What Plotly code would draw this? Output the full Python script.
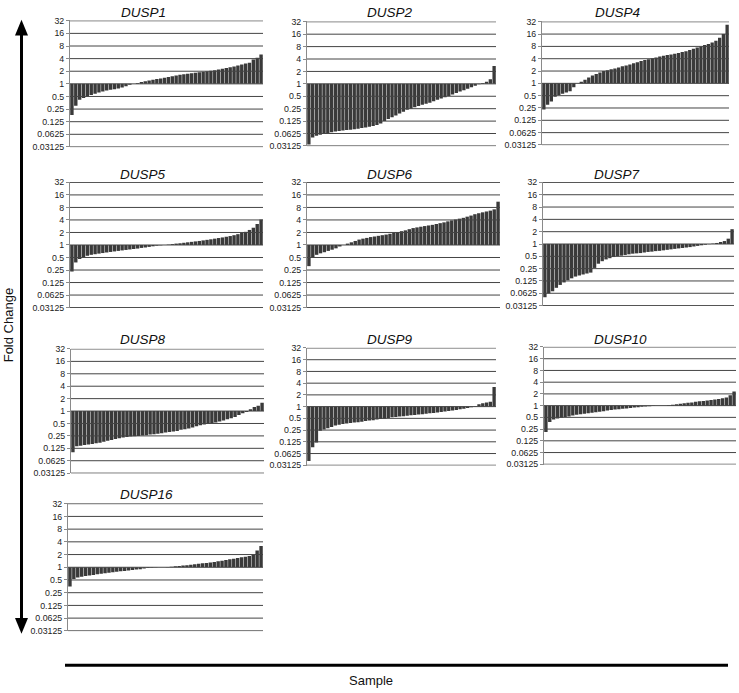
import math
import plotly.graph_objects as go

# ---------------- data (fold change per sample, sorted) ----------------
genes = ["DUSP1", "DUSP2", "DUSP4", "DUSP5", "DUSP6",
         "DUSP7", "DUSP8", "DUSP9", "DUSP10", "DUSP16"]

dusp1 = [0.18, 0.30, 0.42, 0.46, 0.50, 0.54, 0.58, 0.62, 0.66, 0.69,
         0.72, 0.74, 0.77, 0.82, 0.88, 0.95, 1.00, 1.05, 1.10, 1.15,
         1.20, 1.25, 1.30, 1.35, 1.40, 1.45, 1.52, 1.58, 1.65, 1.70,
         1.75, 1.80, 1.85, 1.90, 1.95, 2.00, 2.05, 2.10, 2.20, 2.30,
         2.40, 2.50, 2.60, 2.75, 2.90, 3.05, 3.20, 3.80, 4.20, 5.00]
dusp2 = [0.034, 0.050, 0.055, 0.058, 0.061, 0.064, 0.067, 0.070, 0.072, 0.074,
         0.076, 0.077, 0.079, 0.082, 0.085, 0.088, 0.091, 0.095, 0.100, 0.110,
         0.125, 0.140, 0.155, 0.170, 0.190, 0.210, 0.235, 0.250, 0.270, 0.290,
         0.310, 0.330, 0.350, 0.380, 0.410, 0.440, 0.470, 0.510, 0.550, 0.600,
         0.650, 0.700, 0.760, 0.830, 0.900, 0.980, 1.05, 1.12, 1.30, 2.70]
dusp4 = [0.23, 0.30, 0.36, 0.47, 0.52, 0.56, 0.60, 0.64, 0.80, 1.00,
         1.10, 1.22, 1.40, 1.55, 1.70, 1.85, 2.00, 2.10, 2.20, 2.30,
         2.45, 2.60, 2.75, 2.90, 3.10, 3.30, 3.50, 3.70, 3.90, 4.10,
         4.30, 4.50, 4.70, 4.90, 5.10, 5.30, 5.50, 5.80, 6.10, 6.50,
         7.00, 7.50, 8.00, 8.60, 9.20, 10.0, 11.0, 13.0, 16.0, 27.0]
dusp5 = [0.23, 0.38, 0.46, 0.51, 0.55, 0.58, 0.60, 0.62, 0.64, 0.66,
         0.68, 0.70, 0.72, 0.74, 0.76, 0.78, 0.80, 0.82, 0.85, 0.87,
         0.90, 0.93, 0.96, 0.98, 1.00, 1.02, 1.05, 1.08, 1.10, 1.13,
         1.16, 1.19, 1.22, 1.25, 1.29, 1.33, 1.37, 1.42, 1.47, 1.52,
         1.58, 1.64, 1.72, 1.82, 1.95, 2.07, 2.30, 2.60, 3.20, 4.10]
dusp6 = [0.31, 0.50, 0.58, 0.63, 0.67, 0.72, 0.77, 0.83, 0.92, 1.00,
         1.08, 1.16, 1.25, 1.35, 1.42, 1.48, 1.55, 1.60, 1.66, 1.72,
         1.78, 1.86, 1.95, 2.05, 2.15, 2.25, 2.40, 2.55, 2.65, 2.75,
         2.85, 2.95, 3.05, 3.20, 3.35, 3.50, 3.70, 3.90, 4.10, 4.30,
         4.50, 4.80, 5.10, 5.50, 5.80, 6.10, 6.40, 6.70, 7.20, 11.0]
dusp7 = [0.050, 0.062, 0.070, 0.085, 0.100, 0.115, 0.130, 0.145, 0.160, 0.170,
         0.180, 0.190, 0.200, 0.260, 0.330, 0.380, 0.420, 0.450, 0.480, 0.500,
         0.520, 0.540, 0.560, 0.580, 0.590, 0.600, 0.620, 0.640, 0.650, 0.670,
         0.680, 0.700, 0.720, 0.740, 0.760, 0.780, 0.800, 0.820, 0.840, 0.870,
         0.900, 0.930, 0.960, 0.990, 1.02, 1.06, 1.12, 1.18, 1.35, 2.30]
dusp8 = [0.100, 0.140, 0.145, 0.150, 0.155, 0.160, 0.165, 0.170, 0.180, 0.190,
         0.200, 0.210, 0.220, 0.230, 0.235, 0.240, 0.245, 0.250, 0.255, 0.260,
         0.270, 0.275, 0.280, 0.290, 0.300, 0.310, 0.320, 0.330, 0.350, 0.360,
         0.380, 0.400, 0.430, 0.450, 0.470, 0.490, 0.510, 0.530, 0.560, 0.590,
         0.630, 0.670, 0.720, 0.800, 0.880, 0.950, 1.10, 1.25, 1.35, 1.60]
dusp9 = [0.040, 0.090, 0.120, 0.240, 0.260, 0.280, 0.300, 0.330, 0.345, 0.360,
         0.370, 0.380, 0.390, 0.400, 0.410, 0.430, 0.440, 0.450, 0.470, 0.480,
         0.490, 0.510, 0.530, 0.540, 0.560, 0.570, 0.580, 0.600, 0.610, 0.630,
         0.640, 0.660, 0.680, 0.690, 0.710, 0.730, 0.750, 0.770, 0.790, 0.820,
         0.850, 0.880, 0.920, 0.970, 1.03, 1.15, 1.22, 1.28, 1.34, 3.20]
dusp10 = [0.21, 0.38, 0.44, 0.47, 0.49, 0.51, 0.53, 0.56, 0.58, 0.60,
          0.62, 0.64, 0.66, 0.68, 0.70, 0.72, 0.75, 0.77, 0.79, 0.81,
          0.83, 0.85, 0.87, 0.89, 0.91, 0.93, 0.95, 0.97, 0.98, 0.99,
          1.00, 1.00, 1.02, 1.05, 1.08, 1.12, 1.15, 1.18, 1.21, 1.25,
          1.29, 1.32, 1.36, 1.40, 1.44, 1.48, 1.54, 1.62, 1.85, 2.30]
dusp16 = [0.35, 0.53, 0.57, 0.60, 0.62, 0.64, 0.66, 0.68, 0.70, 0.72,
          0.74, 0.76, 0.78, 0.80, 0.82, 0.84, 0.86, 0.88, 0.90, 0.93,
          0.96, 0.98, 0.99, 1.00, 1.00, 1.01, 1.03, 1.05, 1.07, 1.10,
          1.12, 1.15, 1.18, 1.21, 1.24, 1.27, 1.30, 1.34, 1.38, 1.43,
          1.48, 1.54, 1.60, 1.66, 1.72, 1.78, 1.84, 1.95, 2.50, 3.20]

series = [dusp1, dusp2, dusp4, dusp5, dusp6, dusp7, dusp8, dusp9, dusp10, dusp16]

tick_values = [0.03125, 0.0625, 0.125, 0.25, 0.5, 1, 2, 4, 8, 16, 32]
tick_labels = ["0.03125", "0.0625", "0.125", "0.25", "0.5", "1",
               "2", "4", "8", "16", "32"]
baseline = 1

y_axis_title = "Fold Change"
x_axis_title = "Sample"

# ---------------- layout geometry (pixels) ----------------
W, H = 739, 693
# plot box: left, right, top (32 line), bottom (0.03125 line)
boxes = [
    (70, 263, 16, 144), (307, 496, 17, 143), (542, 729, 17, 142),
    (70, 263, 180, 307), (307, 500, 180, 307), (543, 734, 180, 305),
    (71, 264, 349, 475), (307, 496, 348, 467), (544, 736, 347, 466),
    (68, 263, 506, 635),
]
title_pos = [
    (143, 8), (390, 8), (617, 8),
    (143, 172), (390, 172), (617, 172),
    (143, 339), (390, 339), (620, 339),
    (146, 497),
]

def px(x):
    return x / W

def py(y):
    return 1 - y / H

ylo, yhi = math.log10(tick_values[0]), math.log10(tick_values[-1])
pad = 0.008

FONT = "Arial, Liberation Sans, sans-serif"

fig = go.Figure()
layout = dict(
    width=W, height=H, margin=dict(l=0, r=0, t=0, b=0),
    paper_bgcolor="white", plot_bgcolor="white",
    showlegend=False, bargap=0.12,
    font=dict(family=FONT, color="#222"),
)
annotations = []

for i, (gene, vals) in enumerate(zip(genes, series)):
    k = "" if i == 0 else str(i + 1)
    xa, ya = "x" + k, "y" + k
    n = len(vals)
    xs = list(range(n))
    fig.add_trace(go.Bar(
        x=xs, y=[v - baseline for v in vals], base=baseline,
        marker=dict(color="#3a3a3a", line=dict(width=0)),
        xaxis=xa, yaxis=ya, hoverinfo="skip",
    ))
    gx, gy = [], []
    for t in tick_values:
        gx += [-0.5, n - 0.5, None]
        gy += [t, t, None]
    fig.add_trace(go.Scatter(
        x=gx, y=gy, mode="lines",
        line=dict(color="#444444", width=1),
        xaxis=xa, yaxis=ya, hoverinfo="skip",
    ))
    l, r, t, b = boxes[i]
    span = b - t
    ppu = span / (yhi - ylo)
    layout["xaxis" + k] = dict(
        domain=[px(l), px(r)], range=[-0.5, n - 0.5],
        visible=False, anchor=ya, fixedrange=True,
    )
    layout["yaxis" + k] = dict(
        domain=[py(b + pad * ppu), py(t - pad * ppu)],
        type="log", range=[ylo - pad, yhi + pad],
        tickvals=tick_values, ticktext=tick_labels,
        showgrid=False, zeroline=False,
        showline=True, linecolor="#8a8a8a", linewidth=1,
        ticks="outside", ticklen=3, tickcolor="#8a8a8a",
        tickfont=dict(size=8.8, color="#222", family=FONT),
        anchor=xa, fixedrange=True,
    )
    tx, ty = title_pos[i]
    annotations.append(dict(
        text="<i>%s</i>" % gene, x=px(tx), y=py(ty), xref="paper", yref="paper",
        showarrow=False, xanchor="center", yanchor="middle",
        font=dict(size=13.5, color="#111", family=FONT),
    ))

annotations.append(dict(
    text=y_axis_title, x=px(8), y=py(325), xref="paper", yref="paper",
    showarrow=False, textangle=-90, xanchor="center", yanchor="middle",
    font=dict(size=13, color="#111", family=FONT),
))
annotations.append(dict(
    text=x_axis_title, x=px(371), y=py(685), xref="paper", yref="paper",
    showarrow=False, xanchor="center", yanchor="middle",
    font=dict(size=13, color="#111", family=FONT),
))
layout["annotations"] = annotations

shapes = [
    dict(type="line", xref="paper", yref="paper",
         x0=px(21.5), x1=px(21.5), y0=py(28), y1=py(625),
         line=dict(color="black", width=3)),
    dict(type="path", xref="paper", yref="paper",
         path="M %f %f L %f %f L %f %f Z" % (px(15), py(31), px(21.5), py(15), px(28), py(31)),
         fillcolor="black", line=dict(color="black", width=0)),
    dict(type="path", xref="paper", yref="paper",
         path="M %f %f L %f %f L %f %f Z" % (px(15), py(622), px(21.5), py(638), px(28), py(622)),
         fillcolor="black", line=dict(color="black", width=0)),
    dict(type="line", xref="paper", yref="paper",
         x0=px(65), x1=px(728), y0=py(670), y1=py(670),
         line=dict(color="black", width=3)),
]
layout["shapes"] = shapes

fig.update_layout(**layout)
fig.write_html(
    "out.html",
    config={"displayModeBar": False, "staticPlot": True},
    post_script="document.body.style.margin='0px';document.body.style.overflow='hidden';",
)
